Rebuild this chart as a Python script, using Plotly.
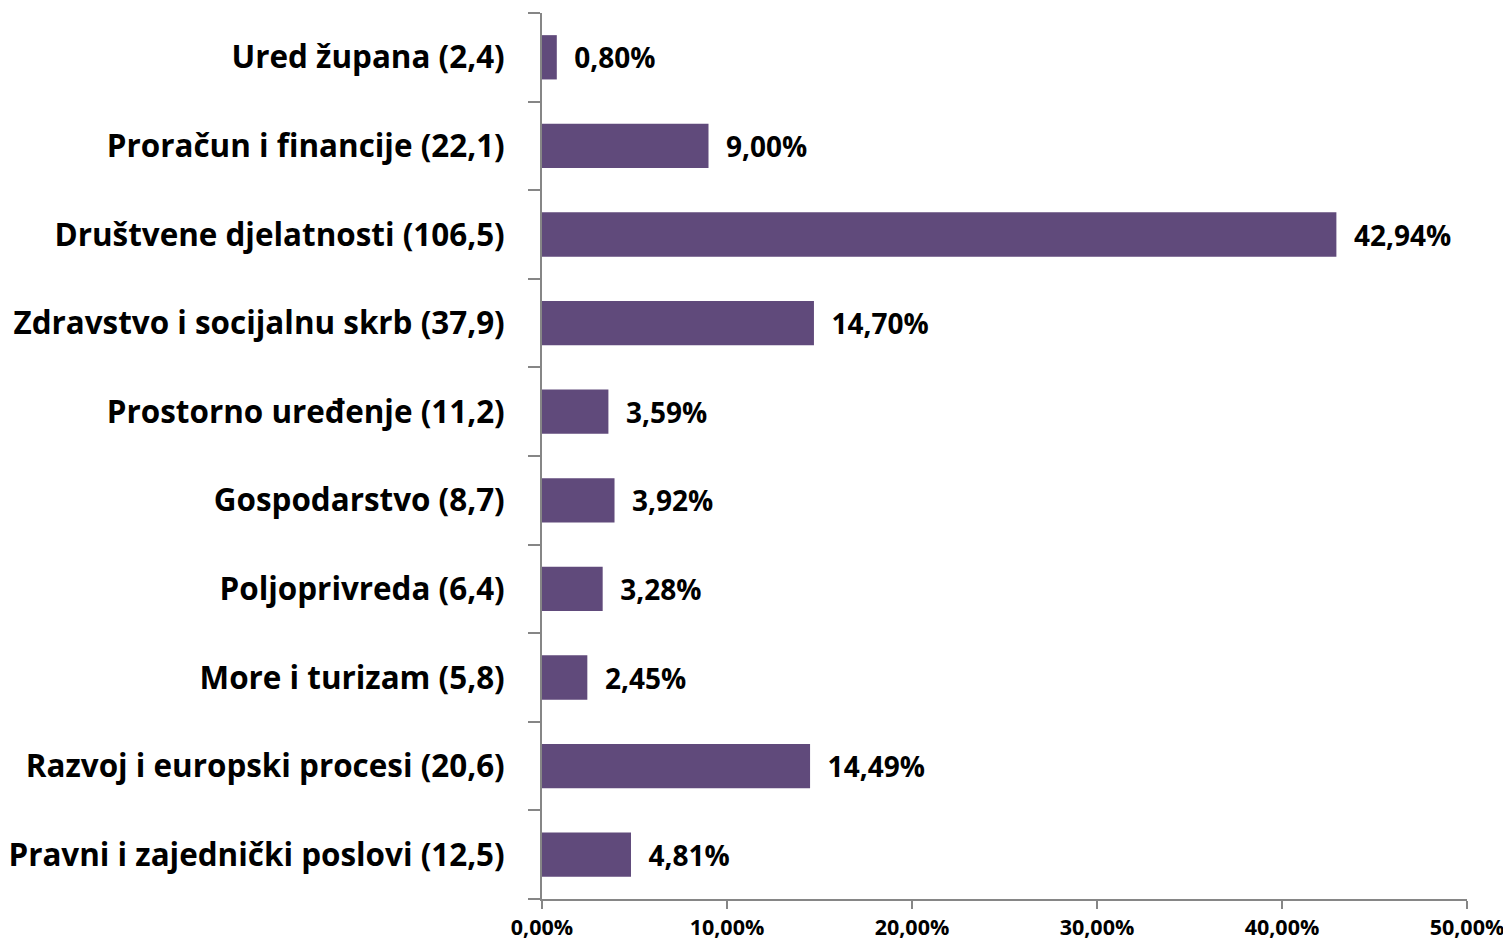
import plotly.graph_objects as go

categories = [
    "Ured župana (2,4)",
    "Proračun i financije (22,1)",
    "Društvene djelatnosti (106,5)",
    "Zdravstvo i socijalnu skrb (37,9)",
    "Prostorno uređenje (11,2)",
    "Gospodarstvo (8,7)",
    "Poljoprivreda (6,4)",
    "More i turizam (5,8)",
    "Razvoj i europski procesi (20,6)",
    "Pravni i zajednički poslovi (12,5)",
]
values = [0.80, 9.00, 42.94, 14.70, 3.59, 3.92, 3.28, 2.45, 14.49, 4.81]
x_ticks = [0, 10, 20, 30, 40, 50]
x_tick_labels = ["0,00%", "10,00%", "20,00%", "30,00%", "40,00%", "50,00%"]

FONT = "Open Sans"
AX = "#868686"

fig = go.Figure(
    go.Bar(
        y=categories,
        x=values,
        orientation="h",
        marker=dict(color="#604A7B", line=dict(width=0)),
        texttemplate="  %{x:.2f}%",
        textposition="outside",
        textfont=dict(family=FONT, size=28, color="black", weight="bold"),
        cliponaxis=False,
        hoverinfo="skip",
    )
)

# page body adds an 8px offset; compensate in size and margins
fig.update_layout(
    width=1503,
    height=937,
    margin=dict(l=534, r=44, t=5, b=46, autoexpand=False),
    plot_bgcolor="white",
    paper_bgcolor="white",
    separators=",.",
    bargap=0.5,
    showlegend=False,
    font=dict(family=FONT, color="black"),
)

fig.update_xaxes(
    range=[0, 50],
    tickvals=x_ticks,
    ticktext=x_tick_labels,
    automargin=False,
    showgrid=False,
    zeroline=False,
    showline=True,
    linecolor=AX,
    linewidth=2,
    ticks="outside",
    ticklen=8,
    tickwidth=2,
    tickcolor=AX,
    ticklabelstandoff=0,
    tickfont=dict(family=FONT, size=21.5, color="black", weight="bold"),
)

fig.update_yaxes(
    categoryorder="array",
    categoryarray=categories[::-1],
    automargin=False,
    showgrid=False,
    zeroline=False,
    showline=True,
    linecolor=AX,
    linewidth=2,
    ticks="outside",
    tickson="boundaries",
    ticklen=12,
    tickwidth=2,
    tickcolor=AX,
    ticklabelstandoff=29,
    tickfont=dict(family=FONT, size=31.4, color="black", weight="bold"),
)

fig.write_html("out.html")
